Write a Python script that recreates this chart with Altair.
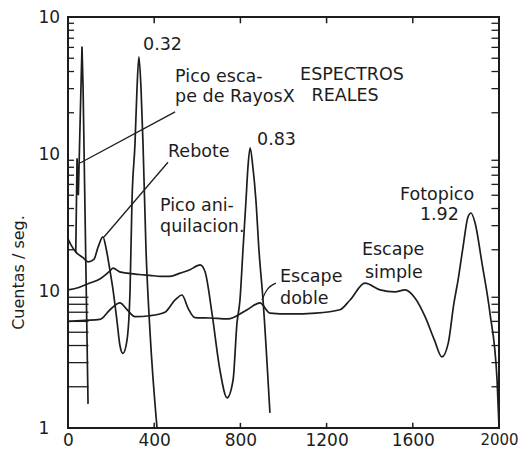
import altair as alt
import pandas as pd

# ---------------- data ----------------
# spectrum of the 0.32 MeV source
x_032 = [0, 15, 40, 70, 93, 120, 140, 162, 178, 195, 209, 227, 241, 255, 274, 288, 297, 311, 320, 329, 339, 348, 362, 380, 413]
y_032 = [24, 21.5, 19, 17.5, 16.3, 17, 21, 24.8, 20, 14, 10.2, 6.1, 4.0, 3.5, 4.4, 10.2, 46, 120, 295, 511, 295, 120, 20, 5.2, 1]

# X-ray escape / X-ray spikes at low energy
x_rx = [36, 42, 48, 60, 65, 70, 93]
y_rx = [19, 93, 50, 300, 610, 300, 1.5]

# spectrum of the 0.83 MeV source
x_083 = [0, 50, 93, 150, 195, 209, 240, 274, 330, 380, 430, 473, 520, 566, 613, 636, 668, 705, 738, 766, 784, 798, 812, 826, 835, 845, 858, 872, 886, 905, 937]
y_083 = [10.2, 10.6, 11.3, 12.3, 14.0, 14.7, 13.8, 13.5, 13.2, 13.0, 12.8, 12.8, 13.5, 14.3, 15.5, 13.8, 6.9, 2.65, 1.66, 2.24, 5.8, 8.6, 20, 46, 80, 111, 80, 46, 20, 8.6, 1.29]

# spectrum of the 1.92 MeV source
x_192 = [0, 79, 148, 195, 241, 274, 311, 380, 450, 497, 529, 557, 589, 659, 742, 831, 891, 937, 1030, 1150, 1262, 1309, 1378, 1448, 1517, 1564, 1610, 1657, 1700, 1735, 1765, 1790, 1810, 1833, 1856, 1870, 1889, 1921, 1958, 1991, 2000]
y_192 = [6.0, 6.1, 6.2, 7.3, 8.2, 7.3, 6.5, 6.6, 7.0, 8.6, 9.35, 7.5, 6.4, 6.35, 6.25, 7.3, 8.2, 6.9, 6.8, 6.9, 7.3, 8.6, 11.4, 10.2, 9.85, 10.2, 8.9, 6.5, 4.4, 3.3, 4.2, 8.0, 12, 20.9, 34.7, 37.1, 31.4, 16, 6.9, 2.24, 1.02]

# axis ticks
x_tick_values = [0, 400, 800, 1200, 1600, 2000]
x_inner_ticks = [400, 800, 1200, 1600]
y_tick_values = [1, 10, 100, 1000]
y_minor_low = [2, 3, 4, 5, 6, 7, 8, 9]
y_minor_high = [20, 30, 40, 50, 60, 70, 80, 90, 200, 300, 400, 500, 600, 700, 800, 900]

# annotation texts (text, energy, counts)
label_text = ["0.32", "Pico esca-", "pe de RayosX", "ESPECTROS", "REALES", "Rebote", "0.83",
              "Pico ani-", "quilacion.", "Escape", "doble", "Escape", "simple", "Fotopico", "1.92"]
label_x = [348, 497, 497, 1077, 1130, 464, 877, 427, 427, 984, 984, 1364, 1378, 1541, 1633]
label_y = [625, 365, 261, 377, 265, 103, 126, 41.5, 29.5, 12.6, 8.8, 19.8, 13.6, 50.2, 35.9]

# leader lines
lead_id = ["rx", "rx", "reb", "reb", "dob", "dob", "dob"]
lead_x = [497, 56, 464, 167, 965, 920, 900]
lead_y = [203, 86, 87, 24.8, 11.4, 10.0, 8.6]

# ---------------- tables ----------------
rows = []
for name, xs_, ys_ in [("0.32", x_032, y_032), ("0.83", x_083, y_083), ("1.92", x_192, y_192)]:
    for a, b in zip(xs_, ys_):
        rows.append({"serie": name, "energia": a, "cuentas": b})
df_main = pd.DataFrame(rows)
df_rx = pd.DataFrame({"energia": x_rx, "cuentas": y_rx})
df_lab = pd.DataFrame({"t": label_text, "energia": label_x, "cuentas": label_y})
df_lead = pd.DataFrame({"id": lead_id, "energia": lead_x, "cuentas": lead_y})

ink = "#1d1d1d"
FONT = "DejaVu Sans"

xsc = alt.Scale(domain=[0, 2000], nice=False, zero=False)
ysc = alt.Scale(type="log", domain=[1, 1000], nice=False)

x_enc = alt.X("energia:Q", scale=xsc,
              axis=alt.Axis(values=x_tick_values, format="d", title=None, ticks=False, domain=False,
                            grid=False, labelFont=FONT,
                            labelFontSize=alt.condition("datum.value == 2000", alt.value(15), alt.value(17)),
                            labelColor=ink, labelPadding=4, labelFlush=False))
y_enc = alt.Y("cuentas:Q", scale=ysc,
              axis=alt.Axis(values=y_tick_values, labelExpr="datum.value == 1 ? '1' : '10'",
                            title="Cuentas / seg.", ticks=False, domain=False, grid=False,
                            labelFont=FONT, labelFontSize=17, labelColor=ink, labelAlign="left",
                            labelPadding=30, labelBaseline="middle", labelFlush=False,
                            titleFont=FONT, titleFontSize=16, titleFontWeight="normal",
                            titleColor=ink, titleX=-50, titleY=255, titleAlign="center",
                            titleBaseline="middle", titleAngle=270))

lines = alt.Chart(df_main).mark_line(interpolate="monotone", color=ink, strokeWidth=1.7).encode(
    x=x_enc, y=y_enc, detail="serie:N")

rx = alt.Chart(df_rx).mark_line(color=ink, strokeWidth=1.7).encode(
    x=alt.X("energia:Q", scale=xsc), y=alt.Y("cuentas:Q", scale=ysc))

leads = alt.Chart(df_lead).mark_line(color=ink, strokeWidth=1.3, interpolate="monotone").encode(
    x=alt.X("energia:Q", scale=xsc), y=alt.Y("cuentas:Q", scale=ysc), detail="id:N")

texts = alt.Chart(df_lab).mark_text(align="left", baseline="middle", font=FONT, fontSize=17.5,
                                    color=ink).encode(
    x=alt.X("energia:Q", scale=xsc), y=alt.Y("cuentas:Q", scale=ysc), text="t:N")

# inward tick marks on the frame
tick_rows = []
for v in y_minor_low:
    tick_rows.append({"y": v, "x0": 0, "x1": 95})
    tick_rows.append({"y": v, "x0": 1965, "x1": 2000})
for v in y_minor_high:
    tick_rows.append({"y": v, "x0": 0, "x1": 28})
    tick_rows.append({"y": v, "x0": 1965, "x1": 2000})
df_yt = pd.DataFrame(tick_rows)
yticks = alt.Chart(df_yt).mark_rule(color=ink, strokeWidth=1.3).encode(
    x=alt.X("x0:Q", scale=xsc), x2="x1:Q", y=alt.Y("y:Q", scale=ysc))

xt_rows = []
for v in x_inner_ticks:
    xt_rows.append({"x": v, "y0": 1, "y1": 1.09})
    xt_rows.append({"x": v, "y0": 1000, "y1": 900})
df_xt = pd.DataFrame(xt_rows)
xticks = alt.Chart(df_xt).mark_rule(color=ink, strokeWidth=1.5).encode(
    x=alt.X("x:Q", scale=xsc), y=alt.Y("y0:Q", scale=ysc), y2="y1:Q")

chart = alt.layer(lines, rx, leads, texts, yticks, xticks).properties(
    width=431, height=411,
    padding={"left": 68, "top": 17, "right": 19, "bottom": 28},
    autosize=alt.AutoSizeParams(type="none"),
    background="white",
).configure_view(stroke=ink, strokeWidth=2)

chart.save("out.html", embed_options={"renderer": "svg", "actions": False})
